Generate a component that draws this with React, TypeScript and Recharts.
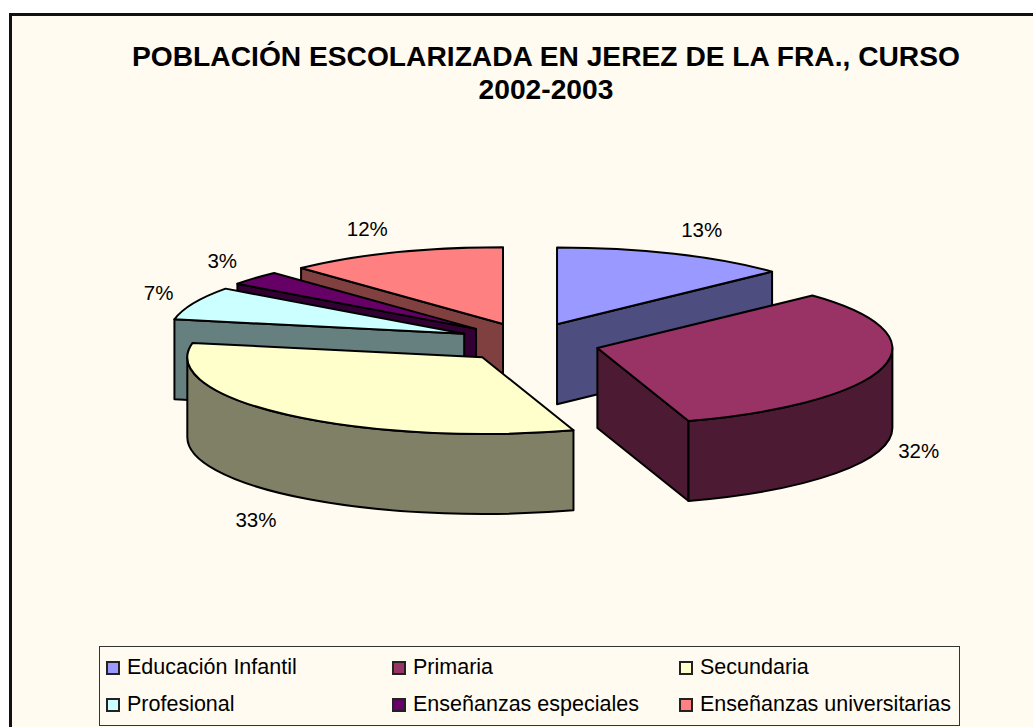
import React from 'react';
import { PieChart, Pie, Legend } from 'recharts';

const categories = ['Educación Infantil', 'Primaria', 'Secundaria', 'Profesional', 'Enseñanzas especiales', 'Enseñanzas universitarias'];
const shares = [13, 32, 33, 7, 3, 12];
const topColors = ['#9999ff', '#993366', '#ffffcc', '#ccffff', '#660066', '#ff8080'];
const sideColors = ['#4d4d80', '#4d1a33', '#808066', '#668080', '#330033', '#804040'];
// back slices first so the front ones cover them
const paintOrder = [0, 1, 5, 4, 3, 2];

const tableData = categories.map((name, i) => ({ name, value: shares[i] }));

const W = 1033;
const H = 727;
const TILT = 0.26;
const DEPTH = 80;
const EXPLODE = 70.6;
const FRONT_DROP = 2.5;
const FONT = 'Liberation Sans, Arial, sans-serif';

const rad = (d: number) => (d * Math.PI) / 180;

const Slice3D = ({ cx, cy, outerRadius, startAngle, endAngle, midAngle, index }: any) => {
  const r = outerRadius;
  // recharts angles -> clockwise from twelve o'clock
  const a = 90 - startAngle;
  const b = 90 - endAngle;
  const mid = 90 - midAngle;
  const s = Math.sin(rad(mid));
  const c = Math.cos(rad(mid));
  const ox = cx + EXPLODE * s;
  const oy = cy - EXPLODE * TILT * c + (c < 0 ? FRONT_DROP : 0);
  const px = (t: number) => ox + r * Math.sin(rad(t));
  const py = (t: number) => oy - r * TILT * Math.cos(rad(t));
  const ry = r * TILT;
  const fill = topColors[index];
  const side = sideColors[index];
  const edge = { stroke: '#000', strokeWidth: 2, strokeLinejoin: 'round' as const };

  const wall = (t: number) =>
    `M${ox},${oy} L${px(t)},${py(t)} L${px(t)},${py(t) + DEPTH} L${ox},${oy + DEPTH} Z`;

  const rimFrom = Math.max(a, 90);
  const rimTo = Math.min(b, 270);
  const rim =
    rimFrom < rimTo
      ? `M${px(rimFrom)},${py(rimFrom)} A${r},${ry} 0 0 1 ${px(rimTo)},${py(rimTo)} L${px(rimTo)},${py(rimTo) + DEPTH} A${r},${ry} 0 0 0 ${px(rimFrom)},${py(rimFrom) + DEPTH} Z`
      : null;

  const top = `M${ox},${oy} L${px(a)},${py(a)} A${r},${ry} 0 ${b - a > 180 ? 1 : 0} 1 ${px(b)},${py(b)} Z`;

  // percentage label sits just outside the rim
  const lx = px(mid) + Math.sign(s) * (Math.abs(s) * 14 + 22);
  const ly = py(mid) + (c > 0 ? -c * 26 : DEPTH - c * 42 - 7);

  return (
    <g>
      {Math.sin(rad(a)) < -1e-6 && <path d={wall(a)} fill={side} {...edge} />}
      {Math.sin(rad(b)) > 1e-6 && <path d={wall(b)} fill={side} {...edge} />}
      {rim && <path d={rim} fill={side} {...edge} />}
      <path d={top} fill={fill} {...edge} />
      <text x={lx} y={ly} textAnchor="middle" dominantBaseline="central" fontFamily={FONT} fontSize={20.5} fill="#000">
        {shares[index]}%
      </text>
    </g>
  );
};

const LegendBox = () => (
  <div
    style={{
      boxSizing: 'border-box',
      width: 861,
      height: 80,
      border: '1px solid #333',
      position: 'relative',
      fontFamily: FONT,
      fontSize: 21.5,
      color: '#000',
    }}
  >
    {categories.map((name, i) => (
      <div
        key={name}
        style={{
          position: 'absolute',
          left: [6, 292, 579][i % 3],
          top: i < 3 ? 8 : 45,
          height: 24,
          lineHeight: '24px',
          whiteSpace: 'nowrap',
          display: 'flex',
          alignItems: 'center',
        }}
      >
        <span
          style={{
            display: 'inline-block',
            boxSizing: 'border-box',
            width: 14,
            height: 14,
            border: '2px solid #222',
            background: topColors[i],
            marginRight: 7,
            marginTop: 2,
          }}
        />
        {name}
      </div>
    ))}
  </div>
);

export default function App() {
  return (
    <div style={{ position: 'absolute', left: 0, top: 0, width: W, height: H, background: '#fff', overflow: 'hidden' }}>
      <div
        style={{
          position: 'absolute',
          left: 9,
          top: 13,
          width: 1040,
          height: 730,
          boxSizing: 'border-box',
          border: '3px solid #111',
          background: '#fffbf0',
        }}
      />
      <div
        style={{
          position: 'absolute',
          left: 14,
          top: 40,
          width: 1064,
          textAlign: 'center',
          fontFamily: FONT,
          fontWeight: 700,
          fontSize: 28.2,
          lineHeight: '33px',
          color: '#000',
        }}
      >
        POBLACIÓN ESCOLARIZADA EN JEREZ DE LA FRA., CURSO
        <br />
        2002-2003
      </div>
      <div style={{ position: 'absolute', left: 0, top: 0 }}>
        <PieChart width={W} height={H} margin={{ top: 0, right: 0, bottom: 0, left: 0 }}>
          {paintOrder.map((k) => (
            <Pie
              key={k}
              data={tableData}
              dataKey="value"
              nameKey="name"
              cx={529}
              cy={341}
              outerRadius={295}
              startAngle={90}
              endAngle={-270}
              stroke="none"
              isAnimationActive={false}
              shape={(props: any) => (props.index === k ? <Slice3D {...props} /> : <g />)}
            />
          ))}
          <Legend
            content={<LegendBox />}
            layout="horizontal"
            align="left"
            verticalAlign="bottom"
            wrapperStyle={{ left: 99, top: 646, bottom: 'auto', width: 861 }}
          />
        </PieChart>
      </div>
    </div>
  );
}
